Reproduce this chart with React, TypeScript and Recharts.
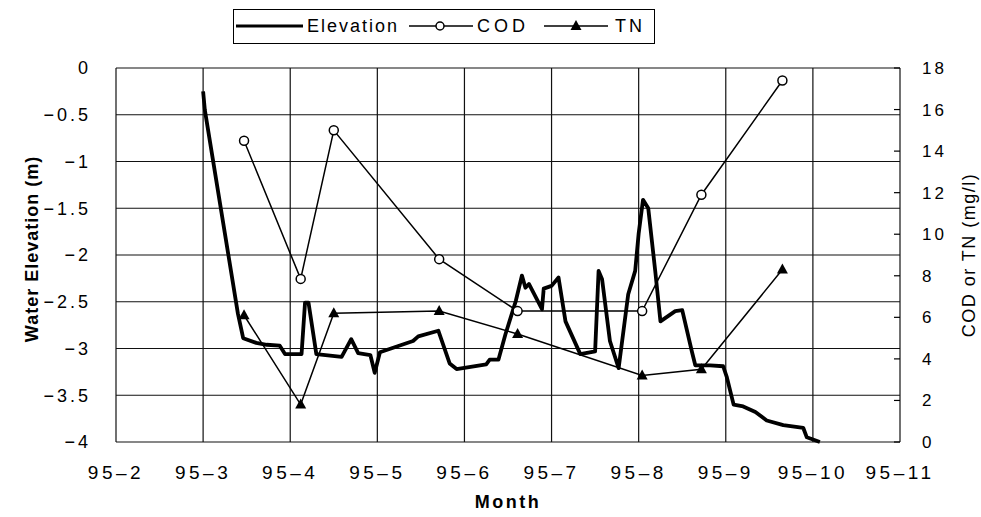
import React from 'react';
import { CartesianGrid, Line, LineChart, XAxis, YAxis } from 'recharts';

// month axis: 2 = 95-2 ... 11 = 95-11
const monthTicks = [2, 3, 4, 5, 6, 7, 8, 9, 10, 11];
const elevationTicks = [0, -0.5, -1, -1.5, -2, -2.5, -3, -3.5, -4];
const concTicks = [0, 2, 4, 6, 8, 10, 12, 14, 16, 18];

// water elevation record (m)
const elevationMonths = [
  3.0, 3.02, 3.4, 3.46, 3.61, 3.73, 3.88, 3.94, 4.13, 4.17, 4.21, 4.3, 4.59, 4.7, 4.78, 4.92,
  4.97, 5.03, 5.41, 5.47, 5.7, 5.83, 5.91, 6.25, 6.29, 6.39, 6.47, 6.59, 6.66, 6.7, 6.74, 6.89,
  6.91, 7.0, 7.08, 7.16, 7.33, 7.5, 7.54, 7.58, 7.67, 7.77, 7.88, 7.96, 8.0, 8.05, 8.11, 8.19,
  8.25, 8.42, 8.5, 8.61, 8.65, 8.82, 8.97, 9.01, 9.09, 9.2, 9.34, 9.47, 9.66, 9.89, 9.93, 10.08,
];
const elevationLevels = [
  -0.25, -0.45, -2.63, -2.89, -2.94, -2.96, -2.97, -3.06, -3.06, -2.51, -2.51, -3.06, -3.09, -2.9, -3.05, -3.07,
  -3.26, -3.04, -2.92, -2.87, -2.81, -3.16, -3.22, -3.17, -3.12, -3.12, -2.85, -2.49, -2.22, -2.35, -2.31, -2.58,
  -2.36, -2.33, -2.24, -2.71, -3.06, -3.03, -2.17, -2.26, -2.92, -3.21, -2.42, -2.17, -1.77, -1.41, -1.5, -2.17,
  -2.71, -2.6, -2.59, -3.03, -3.18, -3.18, -3.19, -3.3, -3.6, -3.62, -3.68, -3.77, -3.82, -3.85, -3.95, -4.0,
];

// water quality samples (mg/l)
const sampleMonths = [3.47, 4.12, 4.5, 5.71, 6.61, 8.04, 8.72, 9.65];
const codValues = [14.5, 7.85, 15.0, 8.8, 6.3, 6.3, 11.9, 17.4];
const tnValues = [6.1, 1.8, 6.2, 6.3, 5.2, 3.2, 3.5, 8.3];

const elevationData = elevationMonths.map((m, i) => ({ month: m, elevation: elevationLevels[i] }));
const sampleData = sampleMonths.map((m, i) => ({ month: m, cod: codValues[i], tn: tnValues[i] }));

const FONT = '"Liberation Sans", Arial, sans-serif';
const leftTick = { fill: '#000', fontSize: 18, fontFamily: FONT, letterSpacing: 3 };
const rightTick = { fill: '#000', fontSize: 17, fontFamily: FONT, letterSpacing: 3 };
const monthTick = { fill: '#000', fontSize: 19, fontFamily: FONT, letterSpacing: 3.5 };

const fmtElevation = (v: number) => (v < 0 ? `\u2212${Math.abs(v)}` : `${v}`);
const fmtMonth = (m: number) => `95\u2013${m}`;

const Triangle = (props: any) => {
  const { cx, cy, index } = props;
  if (cx == null || cy == null) return null;
  return (
    <polygon
      key={`tn-${index}`}
      points={`${cx},${cy - 6} ${cx - 5.5},${cy + 4} ${cx + 5.5},${cy + 4}`}
      fill="#000"
    />
  );
};

const LeftTitle = ({ viewBox }: any) => {
  const cy = viewBox.y + viewBox.height / 2 - 6;
  return (
    <text
      x={32}
      y={cy}
      transform={`rotate(-90 32 ${cy})`}
      textAnchor="middle"
      dominantBaseline="central"
      fontFamily={FONT}
      fontSize={18}
      fontWeight="bold"
      letterSpacing={1}
      fill="#000"
    >
      Water Elevation (m)
    </text>
  );
};

const RightTitle = ({ viewBox }: any) => {
  const cy = viewBox.y + viewBox.height / 2;
  return (
    <text
      x={969}
      y={cy}
      transform={`rotate(-90 969 ${cy})`}
      textAnchor="middle"
      dominantBaseline="central"
      fontFamily={FONT}
      fontSize={18}
      letterSpacing={1.5}
      fill="#000"
    >
      COD or TN (mg/l)
    </text>
  );
};

function LegendBox() {
  const text: React.CSSProperties = { position: 'absolute', top: 6, lineHeight: '20px' };
  return (
    <div
      style={{
        position: 'absolute',
        left: 233,
        top: 9,
        width: 422,
        height: 35,
        border: '1px solid #000',
        fontFamily: FONT,
        fontSize: 18,
        color: '#000',
        boxSizing: 'border-box',
      }}
    >
      <svg width={420} height={33} style={{ position: 'absolute', left: 0, top: 0 }}>
        <line x1={2} y1={16} x2={69} y2={16} stroke="#000" strokeWidth={3} />
        <line x1={175} y1={16} x2={239} y2={16} stroke="#000" strokeWidth={1.5} />
        <circle cx={206} cy={16} r={4} fill="#fff" stroke="#000" strokeWidth={1.5} />
        <line x1={310} y1={16} x2={374} y2={16} stroke="#000" strokeWidth={1.5} />
        <polygon points="342,10 336.5,20 347.5,20" fill="#000" />
      </svg>
      <span style={{ ...text, left: 73, letterSpacing: 2 }}>Elevation</span>
      <span style={{ ...text, left: 243, letterSpacing: 4 }}>COD</span>
      <span style={{ ...text, left: 381, letterSpacing: 3 }}>TN</span>
    </div>
  );
}

export default function App() {
  return (
    <div style={{ position: 'absolute', left: 0, top: 0, width: 981, height: 517, background: '#fff' }}>
      <LegendBox />
      <LineChart width={981} height={517} margin={{ top: 68, right: 0, bottom: 0, left: 0 }}>
        <CartesianGrid yAxisId="elev" stroke="#111" strokeWidth={1.2} />
        <XAxis
          type="number"
          dataKey="month"
          domain={[2, 11]}
          ticks={monthTicks}
          interval={0}
          allowDataOverflow
          tickFormatter={fmtMonth}
          axisLine={false}
          tickLine={false}
          tickSize={0}
          tickMargin={24}
          height={75}
          tick={monthTick}
          label={{
            value: 'Month',
            position: 'insideBottom',
            offset: 9,
            fill: '#000',
            fontSize: 18,
            fontFamily: FONT,
            fontWeight: 'bold',
            letterSpacing: 2.5,
          }}
        />
        <YAxis
          yAxisId="elev"
          domain={[-4, 0]}
          ticks={elevationTicks}
          interval={0}
          width={116}
          axisLine={false}
          tickLine={false}
          tickSize={0}
          tickMargin={25}
          tickFormatter={fmtElevation}
          tick={leftTick}
          label={<LeftTitle />}
        />
        <YAxis
          yAxisId="conc"
          orientation="right"
          domain={[0, 18]}
          ticks={concTicks}
          interval={0}
          width={81}
          axisLine={false}
          tickLine={{ stroke: '#000', strokeWidth: 1.2 }}
          tickSize={-6}
          tickMargin={28}
          tick={rightTick}
          label={<RightTitle />}
        />
        <Line
          yAxisId="elev"
          data={elevationData}
          dataKey="elevation"
          type="linear"
          stroke="#000"
          strokeWidth={3.8}
          strokeLinejoin="round"
          dot={false}
          isAnimationActive={false}
        />
        <Line
          yAxisId="conc"
          data={sampleData}
          dataKey="cod"
          type="linear"
          stroke="#000"
          strokeWidth={1.5}
          dot={{ r: 4.5, fill: '#fff', stroke: '#000', strokeWidth: 1.5 }}
          isAnimationActive={false}
        />
        <Line
          yAxisId="conc"
          data={sampleData}
          dataKey="tn"
          type="linear"
          stroke="#000"
          strokeWidth={1.5}
          dot={<Triangle />}
          isAnimationActive={false}
        />
      </LineChart>
    </div>
  );
}
